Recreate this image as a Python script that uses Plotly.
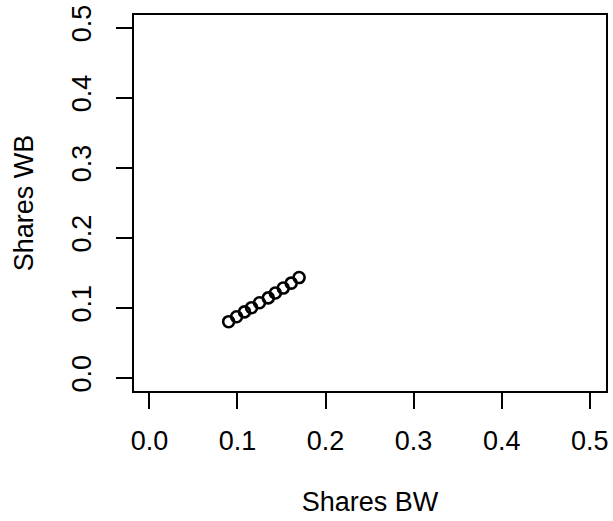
import plotly.graph_objects as go

shares_bw = [0.090, 0.099, 0.108, 0.116, 0.125, 0.135, 0.143, 0.152, 0.161, 0.170]
shares_wb = [0.080, 0.087, 0.094, 0.100, 0.107, 0.114, 0.121, 0.128, 0.135, 0.143]
tick_vals = [0.0, 0.1, 0.2, 0.3, 0.4, 0.5]
tick_text = ["0.0", "0.1", "0.2", "0.3", "0.4", "0.5"]

family = "Liberation Sans, Arial, Helvetica, sans-serif"
tick_font = dict(family=family, size=27, color="black")
title_font = dict(family=family, size=27, color="black")

fig = go.Figure(go.Scatter(
    x=shares_bw, y=shares_wb, mode="markers",
    marker=dict(symbol="circle-open", size=11, color="black", line=dict(width=2.6, color="black")),
))

axis_common = dict(
    showgrid=False, zeroline=False, showline=True, mirror=True,
    linecolor="black", linewidth=2, ticks="outside", ticklen=16, tickwidth=2,
    tickcolor="black", tickvals=tick_vals, ticktext=tick_text, tickfont=tick_font,
    ticklabeloverflow="allow",
)

fig.update_layout(
    width=613, height=521,
    margin=dict(l=134, r=5, t=12, b=130),
    paper_bgcolor="white", plot_bgcolor="white",
    showlegend=False,
    xaxis=dict(range=[-0.0175, 0.5185], ticklabelstandoff=9,
               title=dict(text="Shares BW", font=title_font, standoff=37), **axis_common),
    yaxis=dict(range=[-0.019, 0.518], tickangle=-90, ticklabelstandoff=14,
               title=dict(text="Shares WB", font=title_font, standoff=26), **axis_common),
)

fig.write_html(
    "out.html",
    config={"displayModeBar": False},
    post_script="document.body.style.margin='0';document.body.style.overflow='hidden';",
)
